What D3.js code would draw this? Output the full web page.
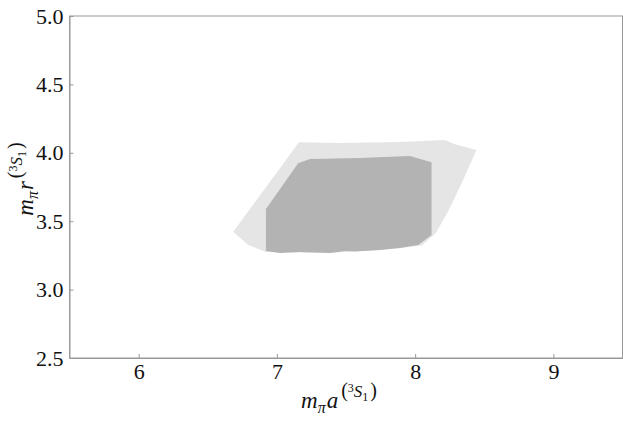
<!DOCTYPE html>
<html><head><meta charset="utf-8">
<script src="https://cdn.jsdelivr.net/npm/d3@7"></script>
</head><body style="margin:0">
<svg id="c" width="623" height="423" style="position:absolute;left:0;top:0;font-family:'Liberation Serif'"></svg>
<script>
const xTicks = [6, 7, 8, 9];
const yTicks = [2.5, 3.0, 3.5, 4.0, 4.5, 5.0];
const xDomain = [5.5, 9.5];
const yDomain = [2.5, 5.0];
// outer (light) region boundary [a, r]
const outerRegion = [
  [7.16,4.077],[7.456,4.072],[7.89,4.079],[8.215,4.094],[8.287,4.062],[8.444,4.02],
  [8.347,3.801],[8.244,3.582],[8.15,3.414],[8.049,3.322],[7.89,3.304],[7.745,3.289],
  [7.528,3.278],[7.383,3.268],[7.166,3.271],[6.921,3.275],[6.793,3.326],[6.684,3.423]
];
// inner (dark) region boundary [a, r]
const innerRegion = [
  [6.921,3.589],[7.154,3.923],[7.239,3.955],[7.60,3.962],[7.962,3.977],[8.119,3.931],
  [8.119,3.399],[8.022,3.326],[7.89,3.304],[7.745,3.289],[7.564,3.278],[7.492,3.282],
  [7.383,3.268],[7.166,3.275],[7.022,3.268],[6.921,3.282]
];

const FONT = "'Liberation Serif'";
const svg = d3.select("#c");
const m = {l:69.5, r:622.5, t:16, b:358};
const x = d3.scaleLinear().domain(xDomain).range([m.l, m.r]);
const y = d3.scaleLinear().domain(yDomain).range([m.b, m.t]);
const line = d3.line().x(d=>x(d[0])).y(d=>y(d[1])).curve(d3.curveLinearClosed);

svg.append("path").attr("d", line(outerRegion)).attr("fill","#e5e5e5");
svg.append("path").attr("d", line(innerRegion)).attr("fill","#b3b3b3");

const gray = "#999";
svg.append("rect").attr("x",m.l).attr("y",m.t).attr("width",m.r-m.l).attr("height",m.b-m.t)
  .attr("fill","none").attr("stroke",gray).attr("stroke-width",1);

const xa = svg.append("g").attr("transform",`translate(0,${m.b})`)
  .call(d3.axisBottom(x).tickValues(xTicks).tickSizeInner(-4).tickSizeOuter(0).tickPadding(5).tickFormat(d3.format("d")));
const ya = svg.append("g").attr("transform",`translate(${m.l},0)`)
  .call(d3.axisLeft(y).tickValues(yTicks).tickSizeInner(-4).tickSizeOuter(0).tickPadding(6).tickFormat(d3.format(".1f")));
[xa, ya].forEach(a=>{
  a.attr("font-family", null).attr("font-size", null);
  a.select(".domain").attr("stroke",gray);
  a.selectAll(".tick line").attr("stroke",gray);
  a.selectAll(".tick text").attr("fill","#111").style("font-family",FONT).style("font-size","22px");
});

function label(g, letter){
  const t = g.append("text").style("font-family",FONT).style("font-size","23px").attr("fill","#111").attr("text-anchor","middle");
  t.append("tspan").style("font-style","italic").text("m");
  t.append("tspan").style("font-style","italic").style("font-size","16px").attr("dy",5).text("π");
  t.append("tspan").style("font-style","italic").attr("dy",-5).attr("dx",1).text(letter);
  t.append("tspan").style("font-size","20px").attr("dy",-11).attr("dx",3).text("(");
  t.append("tspan").style("font-size","12px").attr("dy",-5).text("3");
  t.append("tspan").style("font-size","17px").style("font-style","italic").attr("dy",5).text("S");
  t.append("tspan").style("font-size","12px").attr("dy",4).text("1");
  t.append("tspan").style("font-size","20px").attr("dy",-4).attr("dx",2).text(")");
  return t;
}
label(svg.append("g").attr("transform","translate(339,408)"), "a");
label(svg.append("g").attr("transform","translate(33,179) rotate(-90)"), "r");
</script>
</body></html>
